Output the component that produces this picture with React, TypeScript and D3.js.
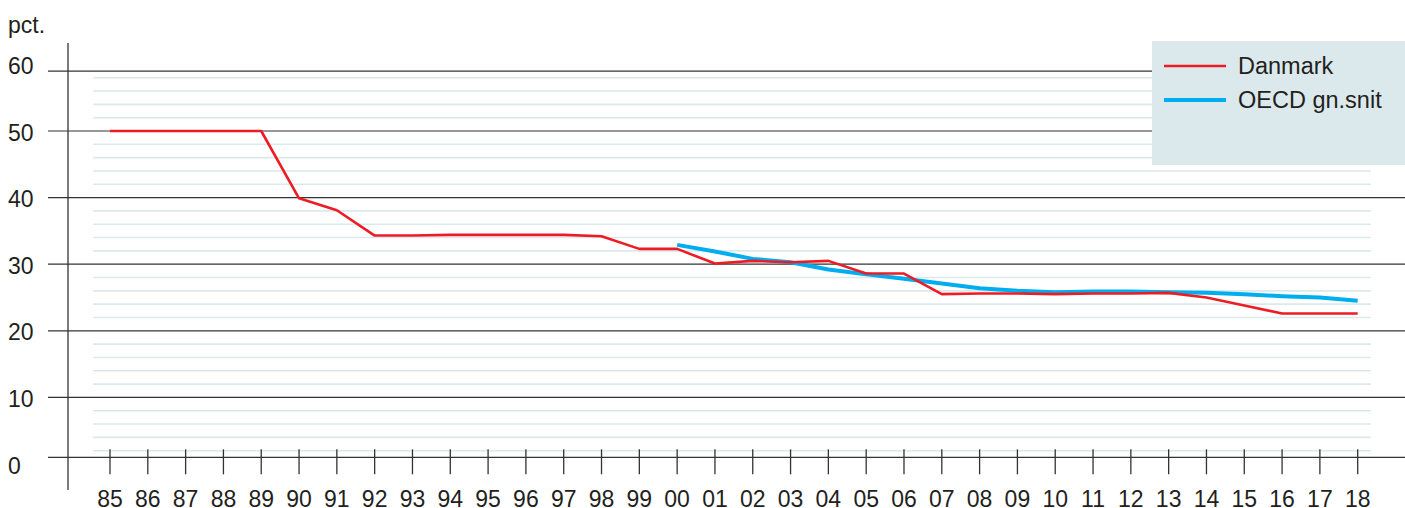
import React from "react";
import * as d3 from "d3";

const years: string[] = ["85","86","87","88","89","90","91","92","93","94","95","96","97","98","99","00","01","02","03","04","05","06","07","08","09","10","11","12","13","14","15","16","17","18"];
const danmark: number[] = [50,50,50,50,50,39.9,38.1,34.3,34.3,34.4,34.4,34.4,34.4,34.2,32.3,32.3,30.1,30.5,30.3,30.5,28.6,28.6,25.5,25.6,25.6,25.5,25.6,25.6,25.7,25.0,23.8,22.6,22.6,22.6];
const oecd: (number | null)[] = [null,null,null,null,null,null,null,null,null,null,null,null,null,null,null,32.9,31.9,30.8,30.3,29.2,28.5,27.8,27.1,26.4,26.0,25.8,25.9,25.9,25.8,25.7,25.5,25.2,25.0,24.5];
const yTicks: number[] = [0,10,20,30,40,50,60];
const minorTicks: number[] = d3.range(2, 60, 2).filter((v) => v % 10 !== 0);
const seriesNames: string[] = ["Danmark", "OECD gn.snit"];
const unitLabel = "pct.";

const W = 1405, H = 508;
const RED = "#ed1c24", BLUE = "#00aeef";
const FONT = "'Liberation Sans', Arial, Helvetica, sans-serif";

export default function App() {
  const x = d3.scalePoint<string>().domain(years).range([110, 1357.7]);
  const y = d3.scaleLinear().domain([0, 60]).range([464, 64.4]);
  const majorLines = [y(1), ...[10, 20, 30, 40, 50].map((v) => y(v)), y(59)];
  const line = d3.line<number | null>()
    .defined((d) => d !== null)
    .x((_, i) => x(years[i]) as number)
    .y((d) => y(d as number));
  const axisY = y(1);

  return (
    <svg width={W} height={H} style={{ position: "absolute", left: 0, top: 0, display: "block" }} fontFamily={FONT}>
      <rect width={W} height={H} fill="#fff" />
      {minorTicks.map((v) => (
        <line key={"m" + v} x1={93} x2={1371} y1={y(v)} y2={y(v)} stroke="#dbe9ed" strokeWidth={1.6} />
      ))}
      {majorLines.map((py, i) => (
        <line key={"g" + i} x1={48} x2={W} y1={py} y2={py} stroke="#333" strokeWidth={1.2} />
      ))}
      <line x1={68} x2={68} y1={43} y2={490} stroke="#333" strokeWidth={1.3} />
      {yTicks.map((v) => (
        <text key={"yl" + v} x={8} y={y(v) + 9.5} fontSize={23} fill="#231f20">{v}</text>
      ))}
      <text x={8} y={32.5} fontSize={23} fill="#231f20">{unitLabel}</text>
      {years.map((yr) => (
        <g key={"t" + yr}>
          <line x1={x(yr)} x2={x(yr)} y1={axisY - 8} y2={axisY + 17} stroke="#333" strokeWidth={1.3} />
          <text x={x(yr)} y={507} textAnchor="middle" fontSize={23} fill="#231f20">{yr}</text>
        </g>
      ))}
      <rect x={1152} y={41} width={W - 1152} height={124} fill="#dce9ec" />
      <path d={line(oecd) || ""} fill="none" stroke={BLUE} strokeWidth={4} strokeLinejoin="round" />
      <path d={line(danmark) || ""} fill="none" stroke={RED} strokeWidth={2.6} strokeLinejoin="round" />
      {seriesNames.map((name, i) => (
        <g key={name}>
          <line x1={1164} x2={1226} y1={66 + i * 34} y2={66 + i * 34} stroke={i === 0 ? RED : BLUE} strokeWidth={i === 0 ? 2.6 : 4} />
          <text x={1238} y={74 + i * 33.5} fontSize={23.5} fill="#231f20">{name}</text>
        </g>
      ))}
    </svg>
  );
}
